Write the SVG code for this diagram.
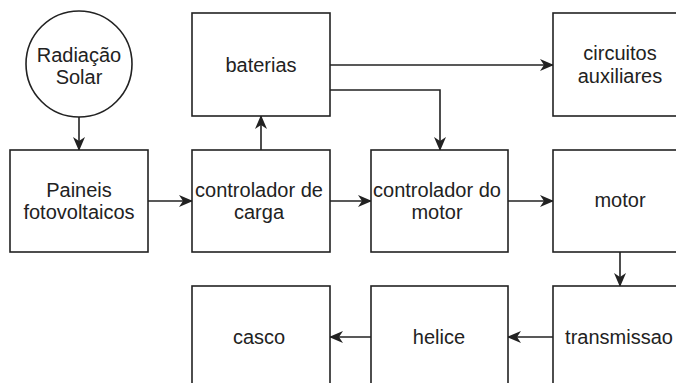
<svg xmlns="http://www.w3.org/2000/svg" width="676" height="383" viewBox="0 0 676 383">
<style>
.box{fill:#fff;stroke:#222;stroke-width:1.6}
.lbl{font-family:"Liberation Sans",Arial,sans-serif;font-size:20px;fill:#222;text-anchor:middle}
.edge{fill:none;stroke:#222;stroke-width:1.6}
</style>
<defs>
<marker id="arr" viewBox="0 0 14 12" refX="13" refY="6" markerWidth="14" markerHeight="12" markerUnits="userSpaceOnUse" orient="auto">
<path d="M0,0 L14,6 L0,12 L4,6 z" fill="#222"/>
</marker>
</defs>
<rect width="676" height="383" fill="#fff"/>
<g id="connectors">
<path class="edge" d="M79,116 V150" marker-end="url(#arr)"/>
<path class="edge" d="M148,201 H192" marker-end="url(#arr)"/>
<path class="edge" d="M261,150 V116" marker-end="url(#arr)"/>
<path class="edge" d="M330,65 H553" marker-end="url(#arr)"/>
<path class="edge" d="M330,90 H440 V150" marker-end="url(#arr)"/>
<path class="edge" d="M330,201 H371" marker-end="url(#arr)"/>
<path class="edge" d="M508,201 H553" marker-end="url(#arr)"/>
<path class="edge" d="M620,252 V286" marker-end="url(#arr)"/>
<path class="edge" d="M553,337 H508" marker-end="url(#arr)"/>
<path class="edge" d="M371,337 H330" marker-end="url(#arr)"/>
</g>
<g id="radiacao">
<circle class="box" cx="79" cy="64" r="53"/>
<text class="lbl" x="79" y="62">Radiação</text>
<text class="lbl" x="79" y="84">Solar</text>
</g>
<g id="baterias">
<rect class="box" x="192" y="13" width="138" height="103"/>
<text class="lbl" x="261" y="72">baterias</text>
</g>
<g id="circuitos">
<rect class="box" x="553" y="13" width="137" height="103"/>
<text class="lbl" x="620" y="60">circuitos</text>
<text class="lbl" x="620" y="83">auxiliares</text>
</g>
<g id="paineis">
<rect class="box" x="10" y="150" width="138" height="102"/>
<text class="lbl" x="79" y="197">Paineis</text>
<text class="lbl" x="79" y="219">fotovoltaicos</text>
</g>
<g id="controlador-carga">
<rect class="box" x="192" y="150" width="138" height="102"/>
<text class="lbl" x="259" y="197">controlador de</text>
<text class="lbl" x="259" y="219">carga</text>
</g>
<g id="controlador-motor">
<rect class="box" x="371" y="150" width="137" height="102"/>
<text class="lbl" x="437" y="197">controlador do</text>
<text class="lbl" x="437" y="219">motor</text>
</g>
<g id="motor">
<rect class="box" x="553" y="150" width="137" height="102"/>
<text class="lbl" x="620" y="207">motor</text>
</g>
<g id="casco">
<rect class="box" x="192" y="286" width="138" height="103"/>
<text class="lbl" x="259" y="344">casco</text>
</g>
<g id="helice">
<rect class="box" x="371" y="286" width="137" height="103"/>
<text class="lbl" x="439" y="344">helice</text>
</g>
<g id="transmissao">
<rect class="box" x="553" y="286" width="137" height="103"/>
<text class="lbl" x="619" y="344">transmissao</text>
</g>
</svg>
